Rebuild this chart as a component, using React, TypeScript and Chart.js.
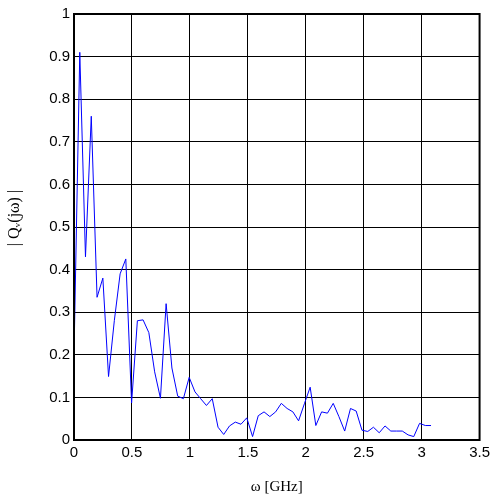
import React, { useEffect, useRef } from "react";
import { Chart, registerables } from "chart.js";

Chart.register(...registerables);

const freqGHz = [
  0, 0.05, 0.099, 0.149, 0.199, 0.249, 0.298, 0.348, 0.398, 0.447,
  0.497, 0.547, 0.596, 0.646, 0.696, 0.746, 0.795, 0.845, 0.895, 0.944,
  0.994, 1.044, 1.093, 1.143, 1.193, 1.243, 1.292, 1.342, 1.392, 1.441,
  1.491, 1.541, 1.59, 1.64, 1.69, 1.74, 1.789, 1.839, 1.889, 1.938,
  1.988, 2.038, 2.087, 2.137, 2.187, 2.237, 2.286, 2.336, 2.386, 2.435,
  2.485, 2.535, 2.584, 2.634, 2.684, 2.734, 2.783, 2.833, 2.883, 2.932,
  2.982, 3.032, 3.081,
];

const magnitude = [
  0.2, 0.91, 0.43, 0.76, 0.335, 0.38, 0.149, 0.28, 0.39, 0.425,
  0.087, 0.28, 0.282, 0.252, 0.16, 0.098, 0.32, 0.169, 0.103, 0.097,
  0.147, 0.113, 0.097, 0.081, 0.097, 0.03, 0.013, 0.033, 0.042, 0.037,
  0.052, 0.008, 0.057, 0.066, 0.055, 0.066, 0.086, 0.074, 0.066, 0.045,
  0.085, 0.124, 0.034, 0.066, 0.063, 0.086, 0.055, 0.021, 0.074, 0.068,
  0.023, 0.02, 0.03, 0.017, 0.033, 0.021, 0.021, 0.021, 0.012, 0.008,
  0.039, 0.034, 0.034,
];

const xTitle = "ω [GHz]";
const yTitle = "| Qᵥ(jω) |";

const framePlugin = {
  id: "frameAndTitles",
  afterDraw(chart: any) {
    const { ctx, chartArea } = chart;
    const { left, right, top, bottom } = chartArea;
    ctx.save();
    ctx.strokeStyle = "#000";
    ctx.lineWidth = 2;
    ctx.strokeRect(left, top, right - left, bottom - top);
    ctx.fillStyle = "#000";
    ctx.font = '15px "Liberation Serif", "DejaVu Serif", serif';
    ctx.textAlign = "center";
    ctx.textBaseline = "middle";
    ctx.fillText(xTitle, (left + right) / 2, 487);
    ctx.font = '16px "Liberation Serif", "DejaVu Serif", serif';
    ctx.translate(15, 218);
    ctx.rotate(-Math.PI / 2);
    ctx.fillText(yTitle, 0, 0);
    ctx.restore();
  },
};

export default function App() {
  const ref = useRef<HTMLCanvasElement | null>(null);
  useEffect(() => {
    if (!ref.current) return;
    const points = freqGHz.map((x, i) => ({ x, y: magnitude[i] }));
    const tickFont = { family: '"Liberation Sans", Arial, sans-serif', size: 15 };
    const chart = new Chart(ref.current, {
      type: "line",
      data: {
        datasets: [
          {
            data: points,
            borderColor: "#0000ff",
            borderWidth: 1,
            pointRadius: 0,
            tension: 0,
            fill: false,
          },
        ],
      },
      options: {
        responsive: false,
        animation: false,
        layout: { padding: { left: 0, right: 14, top: 14, bottom: 0 } },
        plugins: { legend: { display: false }, tooltip: { enabled: false } },
        scales: {
          x: {
            type: "linear",
            min: 0,
            max: 3.5,
            afterFit: (s: any) => {
              s.height = 57;
            },
            ticks: {
              stepSize: 0.5,
              color: "#000",
              font: tickFont,
              padding: 4,
              maxRotation: 0,
              callback: (v: any) => String(Math.round(Number(v) * 10) / 10),
            },
            grid: { color: "#000", lineWidth: 1, drawTicks: false },
            border: { color: "#000", width: 2 },
          },
          y: {
            type: "linear",
            min: 0,
            max: 1,
            afterFit: (s: any) => {
              s.width = 74;
            },
            ticks: {
              stepSize: 0.1,
              color: "#000",
              font: tickFont,
              padding: 4,
              callback: (v: any) => String(Math.round(Number(v) * 10) / 10),
            },
            grid: { color: "#000", lineWidth: 1, drawTicks: false },
            border: { color: "#000", width: 2 },
          },
        },
      },
      plugins: [framePlugin],
    });
    return () => chart.destroy();
  }, []);
  return (
    <div style={{ position: "absolute", left: 0, top: 0, width: 494, height: 497 }}>
      <canvas ref={ref} width={494} height={497} />
    </div>
  );
}
